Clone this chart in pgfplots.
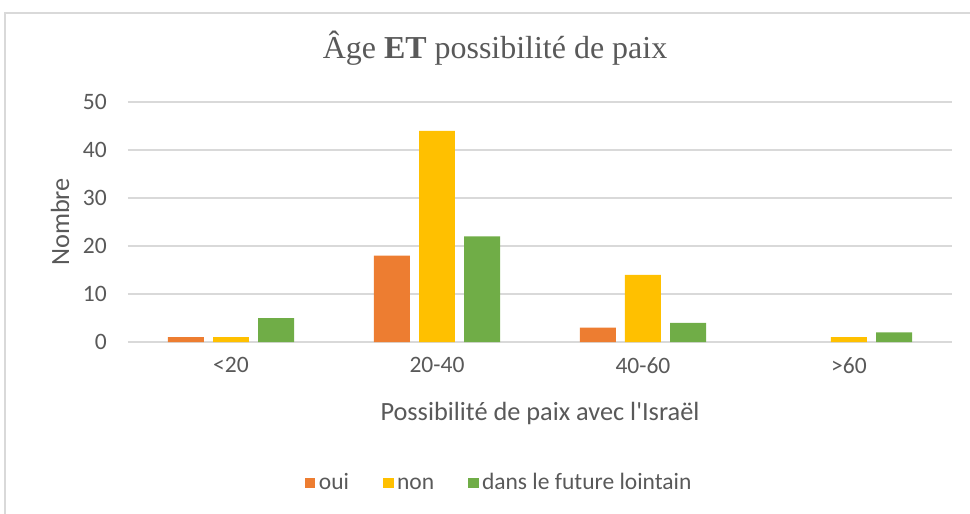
\documentclass[border=0pt]{standalone}
\usepackage{fontspec}
\setmainfont{Carlito}
\newfontfamily\titlefont{Liberation Serif}
\usepackage{pgfplots}
\pgfplotsset{compat=1.18}

\definecolor{oui}{HTML}{ED7D31}
\definecolor{non}{HTML}{FFC000}
\definecolor{loin}{HTML}{70AD47}
\definecolor{gridgray}{HTML}{D9D9D9}
\definecolor{txt}{HTML}{595959}

\begin{document}
\begin{tikzpicture}
% pixel frame of the reference, origin at the plot's lower left corner
\begin{scope}[x=0.4255pt, y=-0.4255pt, shift={(-128,-342)}]
  \useasboundingbox (0,0) rectangle (970,513);
  \draw[gridgray, line width=0.6pt] (5,13) rectangle (990,530);
  \node[font=\titlefont\fontsize{13.6}{16}\selectfont, text=txt] at (495,48)
    {Âge \textbf{ET} possibilité de paix};
\end{scope}
\begin{axis}[
  at={(0,0)}, anchor=south west,
  scale only axis,
  width=350.6pt, height=102.1pt,
  ybar=3.9pt, bar width=15.3pt,
  xmin=-0.5, xmax=3.5, ymin=0, ymax=50,
  xtick={0,1,2,3},
  xticklabels={<20,20-40,40-60,>60},
  ytick={0,10,...,50},
  ymajorgrids,
  grid style={gridgray, line width=0.6pt},
  axis line style={draw=none},
  tick style={draw=none},
  major tick length=0pt,
  /pgf/number format/assume math mode=true,
  tick label style={font=\fontsize{10}{12}\selectfont, text=txt},
  xticklabel style={yshift=-3pt},
  yticklabel style={xshift=-5.5pt},
  xlabel={Possibilité de paix avec l\textquotesingle Israël},
  ylabel={Nombre},
  label style={font=\fontsize{11.2}{13}\selectfont, text=txt},
  xlabel style={at={(axis description cs:0.5,-0.296)}, anchor=center},
  ylabel style={at={(axis description cs:-0.0825,0.5)}, anchor=center, rotate=0},
  legend style={at={(axis description cs:0.4515,-0.5875)}, anchor=center,
    draw=none, fill=none, legend columns=3,
    font=\fontsize{10}{12}\selectfont, text=txt,
    /tikz/every even column/.append style={column sep=13pt},
    nodes={inner sep=1.5pt, text height=1.55ex, text depth=0.3ex}},
  legend image code/.code={\fill[#1, draw=none] (0pt,-2.2pt) rectangle (4.4pt,2.2pt);},
]
\addplot[fill=oui, draw=none] coordinates {(0,1) (1,18) (2,3)};
\addplot[fill=non, draw=none] coordinates {(0,1) (1,44) (2,14) (3,1)};
\addplot[fill=loin, draw=none] coordinates {(0,5) (1,22) (2,4) (3,2)};
\legend{oui, non, dans le future lointain}
\end{axis}
\end{tikzpicture}
\end{document}
